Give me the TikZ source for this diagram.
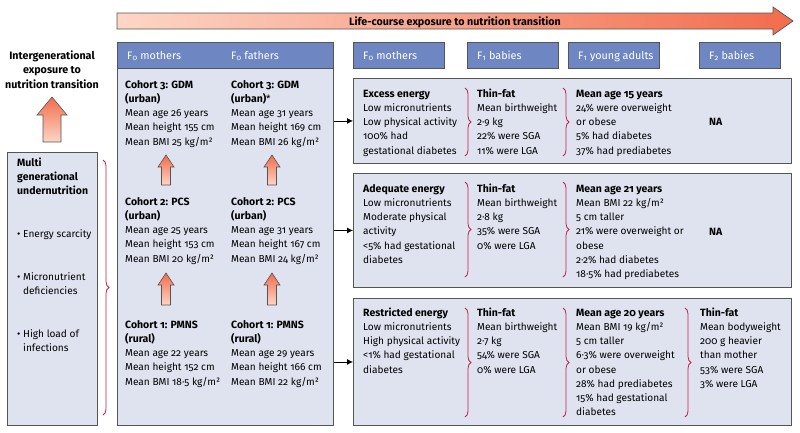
\documentclass[tikz,border=0pt]{standalone}
\usepackage{fontspec}
\setmainfont{Fira Sans}[Numbers=OldStyle, BoldFeatures={Scale=1.04}]
\usetikzlibrary{decorations.pathreplacing,arrows.meta}
\definecolor{hdr}{HTML}{6E87C2}
\definecolor{bodyfill}{HTML}{DFE3F0}
\definecolor{edge}{HTML}{555555}
\definecolor{bracered}{HTML}{C0234B}
\definecolor{arrlight}{HTML}{FDD6C5}
\definecolor{arrdark}{HTML}{F26C4C}
\tikzset{
  panel/.style={draw=edge, fill=bodyfill, line width=0.9pt, anchor=north west, inner sep=0pt},
  hdrbox/.style={draw=edge, fill=hdr, line width=0.9pt, anchor=north west, inner sep=0pt},
  txt/.style={anchor=base west, inner sep=0pt, font=\fontsize{10.1}{12}\selectfont},
  btxt/.style={txt, font=\bfseries\fontsize{10.1}{12}\selectfont},
  hdrtxt/.style={anchor=base west, inner sep=0pt, text=white, font=\fontsize{10.8}{12}\selectfont},
  lbl/.style={anchor=base, inner sep=0pt, font=\bfseries\fontsize{10.3}{12}\selectfont},
  brc/.style={draw=bracered, line width=0.8pt, decorate, decoration={brace, amplitude=6pt}},
  link/.style={-{Latex[length=6pt,width=6pt]}, line width=0.8pt},
  uparr/.style={draw=edge, line width=0.6pt, top color=arrdark, bottom color=arrlight}
}
\newcommand\textblock[4]{%
  \foreach \t [count=\i from 0] in {#4} \node[txt] (#1-\i) at (#2, #3+\i*14.25) {\t};}
\begin{document}
\begin{tikzpicture}[x=1pt,y=-1pt]
\useasboundingbox (0,0) rectangle (800,432);
% top arrow
\shade[left color=arrlight, right color=arrdark] (117,13) -- (773,13) -- (773,7) -- (793,21) -- (773,35) -- (773,29) -- (117,29) -- cycle;
\draw[edge, line width=0.7pt] (117,13) -- (773,13) -- (773,7) -- (793,21) -- (773,35) -- (773,29) -- (117,29) -- cycle;
\node[lbl] (toptitle) at (455,25) {Life-course exposure to nutrition transition};
% left label and big arrow
\node[lbl] (il1) at (52,59) {Intergenerational};
\node[lbl] (il2) at (52,73.5) {exposure to};
\node[lbl] (il3) at (52,88) {nutrition transition};
\shadedraw[uparr] (52,97) -- (67,115) -- (61,115) -- (61,142) -- (43,142) -- (43,115) -- (37,115) -- cycle;
% left box
\node[panel, minimum width=90pt, minimum height=273pt] (lb) at (7,152) {};
\node[btxt] (lbt1) at (17,166) {Multi};
\node[btxt] (lbt2) at (17,180.25) {generational};
\node[btxt] (lbt3) at (17,194.5) {undernutrition};
\node[txt] (b1) at (17,237) {\textbullet};
\node[txt] (b1t) at (23,237) {Energy scarcity};
\node[txt] (b2) at (17,280) {\textbullet};
\node[txt] (b2t) at (23,280) {Micronutrient};
\node[txt] (b2u) at (23,294.25) {deficiencies};
\node[txt] (b3) at (17,337) {\textbullet};
\node[txt] (b3t) at (23,337) {High load of};
\node[txt] (b3u) at (23,351.25) {infections};
\draw[brc] (103,160) -- (103,415);
% F0 panel
\node[panel, minimum width=216pt, minimum height=383pt] (f0) at (117,42) {};
\node[hdrbox, minimum width=216pt, minimum height=26pt] (f0h) at (117,42) {};
\node[hdrtxt] (f0ht1) at (127,59) {F\textsubscript{0} mothers};
\node[hdrtxt] (f0ht2) at (231,59) {F\textsubscript{0} fathers};
\textblock{m3}{125}{88}{\textbf{Cohort 3: GDM},\textbf{(urban)},Mean age 26 years,Mean height 155 cm,Mean BMI 25 kg/m²}
\textblock{f3}{231}{88}{\textbf{Cohort 3: GDM},\textbf{(urban)}*,Mean age 31 years,Mean height 169 cm,Mean BMI 26 kg/m²}
\textblock{m2}{125}{205}{\textbf{Cohort 2: PCS},\textbf{(urban)},Mean age 25 years,Mean height 153 cm,Mean BMI 20 kg/m²}
\textblock{f2}{231}{205}{\textbf{Cohort 2: PCS},\textbf{(urban)},Mean age 31 years,Mean height 167 cm,Mean BMI 24 kg/m²}
\textblock{m1}{125}{328}{\textbf{Cohort 1: PMNS},\textbf{(rural)},Mean age 22 years,Mean height 152 cm,Mean BMI 18·5 kg/m²}
\textblock{f1}{231}{328}{\textbf{Cohort 1: PMNS},\textbf{(rural)},Mean age 29 years,Mean height 166 cm,Mean BMI 22 kg/m²}
% small up arrows
\foreach \cx in {166,272} {
  \shadedraw[uparr] (\cx,155) -- (\cx+8,167) -- (\cx+4.5,167) -- (\cx+4.5,185) -- (\cx-4.5,185) -- (\cx-4.5,167) -- (\cx-8,167) -- cycle;
  \shadedraw[uparr] (\cx,273) -- (\cx+8,285) -- (\cx+4.5,285) -- (\cx+4.5,305) -- (\cx-4.5,305) -- (\cx-4.5,285) -- (\cx-8,285) -- cycle;
}
% right headers
\node[hdrbox, minimum width=91pt, minimum height=26pt] (h1) at (353,42) {};
\node[hdrbox, minimum width=91pt, minimum height=26pt] (h2) at (467,42) {};
\node[hdrbox, minimum width=91pt, minimum height=26pt] (h3) at (568,42) {};
\node[hdrbox, minimum width=81pt, minimum height=26pt] (h4) at (699,42) {};
\node[hdrtxt] (h1t) at (363,59) {F\textsubscript{0} mothers};
\node[hdrtxt] (h2t) at (477,59) {F\textsubscript{1} babies};
\node[hdrtxt] (h3t) at (578,59) {F\textsubscript{1} young adults};
\node[hdrtxt] (h4t) at (709,59) {F\textsubscript{2} babies};
% row panels
\node[panel, minimum width=438pt, minimum height=85pt] (r1) at (353,78) {};
\node[panel, minimum width=438pt, minimum height=114pt] (r2) at (353,173) {};
\node[panel, minimum width=438pt, minimum height=127pt] (r3) at (353,298) {};
\draw[link] (f0.east |- r1.west) -- (r1.west);
\draw[link] (f0.east |- r2.west) -- (r2.west);
\draw[link] (f0.east |- r3.west) -- (r3.west);
% row 1
\textblock{a1}{363}{97}{\textbf{Excess energy},Low micronutrients,Low physical activity,100\% had,gestational diabetes}
\textblock{a2}{477}{97}{\textbf{Thin-fat},Mean birthweight,2·9 kg,22\% were SGA,11\% were LGA}
\textblock{a3}{576}{97}{\textbf{Mean age 15 years},24\% were overweight,or obese,5\% had diabetes,37\% had prediabetes}
\node[btxt] (na1) at (709,125.5) {NA};
\draw[brc] (465,88) -- (465,156);
\draw[brc] (563,88) -- (563,156);
% row 2
\textblock{c1}{363}{192}{\textbf{Adequate energy},Low micronutrients,Moderate physical,activity,<5\% had gestational,diabetes}
\textblock{c2}{477}{192}{\textbf{Thin-fat},Mean birthweight,2·8 kg,35\% were SGA,0\% were LGA}
\textblock{c3}{576}{192}{\textbf{Mean age 21 years},Mean BMI 22 kg/m²,5 cm taller,21\% were overweight or,obese,2·2\% had diabetes,18·5\% had prediabetes}
\node[btxt] (na2) at (709,235) {NA};
\draw[brc] (465,182) -- (465,277);
\draw[brc] (563,182) -- (563,277);
% row 3
\textblock{e1}{363}{316}{\textbf{Restricted energy},Low micronutrients,High physical activity,<1\% had gestational,diabetes}
\textblock{e2}{477}{316}{\textbf{Thin-fat},Mean birthweight,2·7 kg,54\% were SGA,0\% were LGA}
\textblock{e3}{576}{316}{\textbf{Mean age 20 years},Mean BMI 19 kg/m²,5 cm taller,6·3\% were overweight,or obese,28\% had prediabetes,15\% had gestational,diabetes}
\textblock{e4}{700}{316}{\textbf{Thin-fat},Mean bodyweight,200 g heavier,than mother,53\% were SGA,3\% were LGA}
\draw[brc] (465,308) -- (465,417);
\draw[brc] (563,308) -- (563,417);
\draw[brc] (685,308) -- (685,417);
\end{tikzpicture}
\end{document}
